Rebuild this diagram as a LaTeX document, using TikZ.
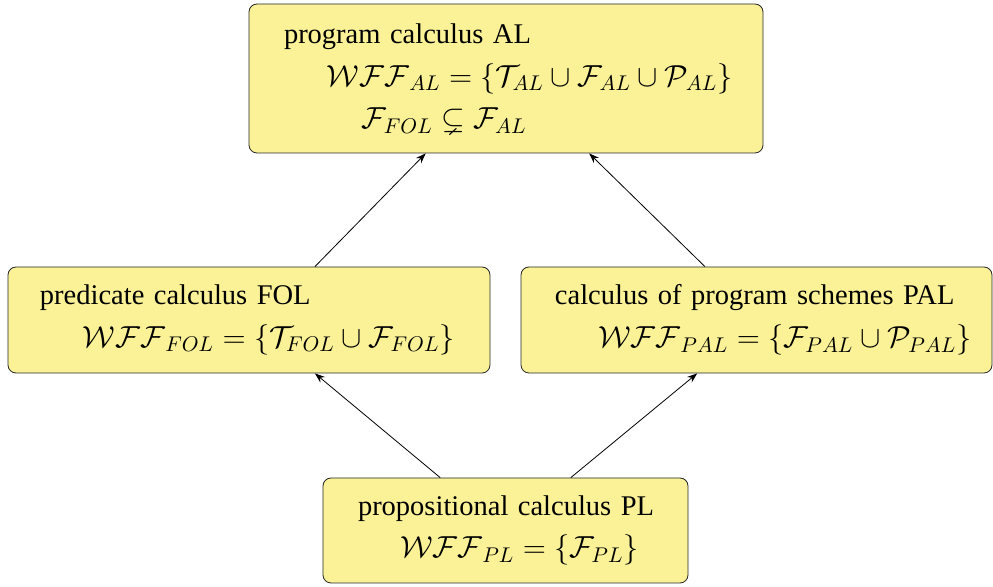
\documentclass[tikz,border=0pt]{standalone}
\usepackage{fix-cm}
\usepackage{amssymb}
\usepackage{fontspec}
\setmainfont{Liberation Serif}
\usetikzlibrary{arrows.meta}

\definecolor{boxyellow}{RGB}{251,242,152}
\def\ind#1{\hspace*{#1pt}}
\def\mth#1{{\fontsize{15.2}{21.25}\selectfont$#1$}}
\tikzstyle{calc-box}=[draw=black!85, fill=boxyellow, rounded corners=4pt, align=left, inner xsep=0pt, inner ysep=0pt, font=\fontsize{14.25}{21.25}\selectfont]
\tikzstyle{edge}=[draw, -{Stealth[length=5pt,width=3.6pt]}]

\begin{document}
\begin{tikzpicture}[x=0.5pt,y=-0.5pt]
  \useasboundingbox (0,0) rectangle (993,587);

  \node[calc-box, text width=257pt, minimum height=74.5pt] (al) at (506,78.5)
    {\ind{17.5}program calculus AL\\
     \ind{39}\mth{\mathcal{WFF}_{AL}=\{\mathcal{T}_{AL}\cup\mathcal{F}_{AL}\cup\mathcal{P}_{AL}\}}\\
     \ind{56.5}\mth{\mathcal{F}_{FOL}\subsetneq\mathcal{F}_{AL}}};
  \node[calc-box, text width=241pt, minimum height=53pt] (fol) at (249,320)
    {\ind{16}predicate calculus FOL\\
     \ind{37.5}\mth{\mathcal{WFF}_{FOL}=\{\mathcal{T}_{FOL}\cup\mathcal{F}_{FOL}\}}};
  \node[calc-box, text width=235.5pt, minimum height=53pt] (pal) at (756.5,320)
    {\ind{17}calculus of program schemes PAL\\
     \ind{38.5}\mth{\mathcal{WFF}_{PAL}=\{\mathcal{F}_{PAL}\cup\mathcal{P}_{PAL}\}}};
  \node[calc-box, text width=182.5pt, minimum height=52.5pt] (pl) at (505.5,530.5)
    {\ind{17.5}propositional calculus PL\\
     \ind{38.5}\mth{\mathcal{WFF}_{PL}=\{\mathcal{F}_{PL}\}}};

  \foreach \source/\sink in {pl.141/fol.-39, pl.39/pal.-138, fol.39/al.-137, pal.134/al.-42} {
    \path[edge] (\source) -- (\sink);
  }
\end{tikzpicture}
\end{document}
